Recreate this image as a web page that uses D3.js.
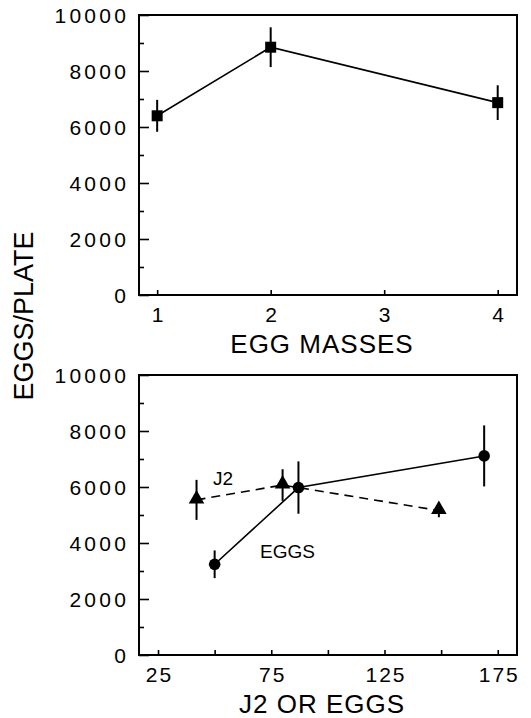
<!DOCTYPE html>
<html>
<head>
<meta charset="utf-8">
<script src="https://cdn.jsdelivr.net/npm/d3@7"></script>
<style>
  body { margin: 0; background: #fff; }
  svg { display: block; font-family: "Liberation Sans", Arial, sans-serif; }
</style>
</head>
<body>
<div id="chart"></div>
<script>
// top panel: egg masses
var eggMasses = [1, 2, 4];
var eggMassMean = [6400, 8850, 6870];
var eggMassErr = [570, 710, 620];

// bottom panel: J2 and eggs inoculum
var j2X = [42, 80, 149];
var j2Mean = [5540, 6070, 5160];
var j2Err = [715, 565, 240];

var eggsX = [50, 87, 169];
var eggsMean = [3240, 5980, 7110];
var eggsErr = [495, 935, 1090];

var yTicks = [0, 2000, 4000, 6000, 8000, 10000];
var topXTicks = [1, 2, 3, 4];
var botXTicks = [25, 75, 125, 175];

var W = 531, H = 718;
var left = 139, right = 517;

var svg = d3.select("#chart").append("svg")
  .attr("width", W).attr("height", H);

svg.append("rect").attr("width", W).attr("height", H).attr("fill", "#fff");

function panel(top, bottom, xDomain, xTicks, xMinor, xTitle, titleY) {
  var g = svg.append("g");
  var x = d3.scaleLinear().domain(xDomain).range([left, right]);
  var y = d3.scaleLinear().domain([0, 10000]).range([bottom, top]);

  // minor y ticks
  g.append("g")
    .attr("transform", "translate(" + left + ",0)")
    .call(d3.axisRight(y).tickValues(d3.range(1000, 10000, 2000)).tickSize(5).tickFormat(""))
    .call(s => s.select(".domain").remove());

  // major y ticks + labels
  var ya = g.append("g")
    .attr("transform", "translate(" + left + ",0)")
    .call(d3.axisLeft(y).tickValues(yTicks).tickSize(-10).tickPadding(13).tickFormat(d3.format("d")))
    .attr("font-size", 21)
    .attr("font-family", "Liberation Sans, Arial, sans-serif")
    .style("letter-spacing", "3.3px");
  ya.select(".domain").remove();
  ya.selectAll("text").attr("dx", 3.3).attr("dy", "0.36em");

  // x ticks
  var xa = g.append("g")
    .attr("transform", "translate(0," + bottom + ")")
    .call(d3.axisBottom(x).tickValues(xTicks).tickSize(-5).tickPadding(12).tickFormat(d3.format("d")))
    .attr("font-size", 21)
    .attr("font-family", "Liberation Sans, Arial, sans-serif")
    .style("letter-spacing", "2px");
  xa.select(".domain").remove();
  xa.selectAll("text").attr("dx", 1).attr("dy", "0.72em");

  if (xMinor.length) {
    g.append("g")
      .attr("transform", "translate(0," + bottom + ")")
      .call(d3.axisBottom(x).tickValues(xMinor).tickSize(-5).tickFormat(""))
      .call(s => s.select(".domain").remove());
  }
  g.selectAll(".tick line").attr("stroke", "#000").attr("stroke-width", 1.6);

  // frame
  g.append("rect")
    .attr("x", left).attr("y", top)
    .attr("width", right - left).attr("height", bottom - top)
    .attr("fill", "none").attr("stroke", "#000").attr("stroke-width", 2);

  g.append("text")
    .attr("x", (left + right) / 2 - 6).attr("y", titleY)
    .attr("text-anchor", "middle")
    .style("font-size", "26px").style("letter-spacing", "1px")
    .text(xTitle);

  return {g: g, x: x, y: y};
}

function errorBars(p, xs, means, errs) {
  p.g.append("g").selectAll("line")
    .data(xs)
    .join("line")
    .attr("x1", d => p.x(d)).attr("x2", d => p.x(d))
    .attr("y1", (d, i) => p.y(means[i] + errs[i]))
    .attr("y2", (d, i) => p.y(means[i] - errs[i]))
    .attr("stroke", "#000").attr("stroke-width", 2);
}

function series(p, xs, means, dash) {
  var line = d3.line()
    .x((d, i) => p.x(xs[i]))
    .y(d => p.y(d));
  p.g.append("path")
    .datum(means)
    .attr("d", line)
    .attr("fill", "none")
    .attr("stroke", "#000")
    .attr("stroke-width", 1.6)
    .attr("stroke-dasharray", dash || null);
}

// ---- top panel
var p1 = panel(15, 295, [0.84, 4.17], topXTicks, [], "EGG MASSES", 353);
series(p1, eggMasses, eggMassMean);
errorBars(p1, eggMasses, eggMassMean, eggMassErr);
p1.g.append("g").selectAll("rect")
  .data(eggMasses)
  .join("rect")
  .attr("x", d => p1.x(d) - 5.5)
  .attr("y", (d, i) => p1.y(eggMassMean[i]) - 5.5)
  .attr("width", 11).attr("height", 11)
  .attr("fill", "#000");

// ---- bottom panel
var p2 = panel(375, 655, [16.6, 183.5], botXTicks, [50, 100, 150], "J2 OR EGGS", 713);
series(p2, j2X, j2Mean, "9,6");
series(p2, eggsX, eggsMean);
errorBars(p2, j2X, j2Mean, j2Err);
errorBars(p2, eggsX, eggsMean, eggsErr);

p2.g.append("g").selectAll("path")
  .data(j2X)
  .join("path")
  .attr("d", d3.symbol().type(d3.symbolTriangle).size(105))
  .attr("transform", (d, i) => "translate(" + p2.x(d) + "," + (p2.y(j2Mean[i]) - 1) + ")")
  .attr("fill", "#000");

p2.g.append("g").selectAll("circle")
  .data(eggsX)
  .join("circle")
  .attr("cx", d => p2.x(d))
  .attr("cy", (d, i) => p2.y(eggsMean[i]))
  .attr("r", 5.8)
  .attr("fill", "#000");

// series labels
p2.g.append("text").attr("x", 213).attr("y", 485)
  .style("font-size", "19px").text("J2");
p2.g.append("text").attr("x", 260).attr("y", 558)
  .style("font-size", "19px").text("EGGS");

// shared y title
svg.append("text")
  .attr("transform", "translate(33,316) rotate(-90)")
  .attr("text-anchor", "middle")
  .style("font-size", "27px")
  .text("EGGS/PLATE");
</script>
</body>
</html>
